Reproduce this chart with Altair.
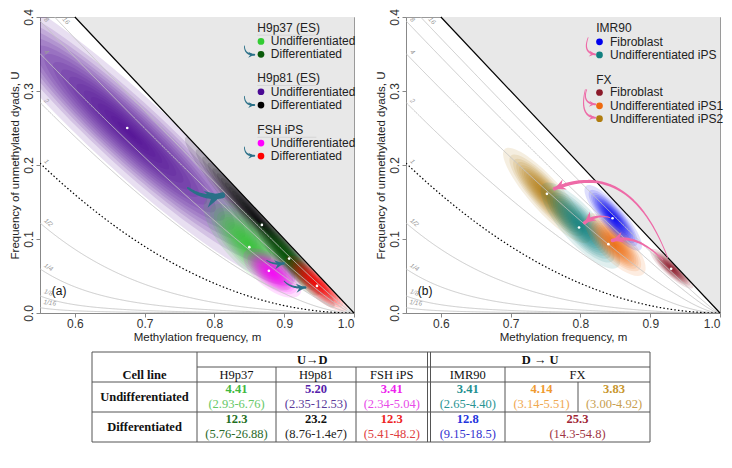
import math
import numpy as np
import pandas as pd
import altair as alt

# ====================== DATA ======================
ratio_values = [1/16, 1/8, 1/4, 1/2, 1, 2, 4, 8, 16]
ratio_labels = ["1/16", "1/8", "1/4", "1/2", "1", "2", "4", "8", "16"]

# ---- panel (a): posterior clouds (modes = white dots) ----
a_names = ["H9p81 U", "H9p81 D", "H9p37 U", "H9p37 D", "FSH U", "FSH D"]
a_mode_m = [0.675, 0.868, 0.850, 0.907, 0.878, 0.947]
a_mode_u = [0.250, 0.119, 0.089, 0.0735, 0.057, 0.0366]
a_end1_m = [0.470, 0.770, 0.795, 0.868, 0.848, 0.908]
a_end1_u = [0.424, 0.225, 0.147, 0.117, 0.080, 0.072]
a_end2_m = [0.888, 0.960, 0.902, 0.945, 0.918, 0.985]
a_end2_u = [0.062, 0.020, 0.040, 0.030, 0.028, 0.008]
a_width = [0.17, 0.12, 0.36, 0.26, 0.45, 0.30]
a_colors = ["#4a0a94", "#000000", "#33cc33", "#0a5a0a", "#ff00ff", "#ff0000"]

# ---- panel (b) ----
b_names = ["FX iPS2", "IMR90 iPS", "FX iPS1", "IMR90 Fib", "FX Fib"]
b_mode_m = [0.752, 0.798, 0.840, 0.846, 0.930]
b_mode_u = [0.161, 0.1155, 0.093, 0.128, 0.0597]
b_end1_m = [0.698, 0.752, 0.813, 0.812, 0.904]
b_end1_u = [0.215, 0.168, 0.128, 0.167, 0.083]
b_end2_m = [0.805, 0.848, 0.886, 0.882, 0.958]
b_end2_u = [0.103, 0.068, 0.057, 0.090, 0.037]
b_width = [0.26, 0.32, 0.38, 0.28, 0.27]
b_colors = ["#b07d10", "#128080", "#ee6a10", "#0000ee", "#8b1a2a"]

# ---- arrows: tail, bend, head ----
a_arrow_tail = [(0.762, 0.169), (0.875, 0.071), (0.900, 0.043)]
a_arrow_bend = [(0.785, 0.153), (0.885, 0.065), (0.910, 0.033)]
a_arrow_head = [(0.811, 0.159), (0.899, 0.067), (0.930, 0.0345)]
b_arrow_tail = [(0.842, 0.129), (0.918, 0.072), (0.925, 0.075)]
b_arrow_bend = [(0.822, 0.134), (0.880, 0.108), (0.870, 0.210)]
b_arrow_head = [(0.806, 0.122), (0.846, 0.098), (0.763, 0.168)]

# ---- legends ----
a_leg_titles = ["H9p37 (ES)", "H9p81 (ES)", "FSH iPS"]
a_leg_labels = ["Undifferentiated", "Differentiated"] * 3
a_leg_colors = ["#33cc33", "#0a5a0a", "#4a0a94", "#000000", "#ff00ff", "#ff0000"]
b_leg_titles = ["IMR90", "FX"]
b_leg_labels = ["Fibroblast", "Undifferentiated iPS", "Fibroblast",
                "Undifferentiated iPS1", "Undifferentiated iPS2"]
b_leg_colors = ["#0000ee", "#128080", "#8b1a2a", "#ee6a10", "#b07d10"]

# ---- table ----
tbl_groups = ["U\u2192D", "D \u2192 U"]
tbl_lines = ["H9p37", "H9p81", "FSH iPS", "IMR90", "FX"]
tbl_rows = ["Cell line", "Undifferentiated", "Differentiated"]
undiff_val = ["4.41", "5.20", "3.41", "3.41", "4.14", "3.83"]
undiff_ci = ["(2.93-6.76)", "(2.35-12.53)", "(2.34-5.04)", "(2.65-4.40)", "(3.14-5.51)", "(3.00-4.92)"]
undiff_col = ["#3fb83f", "#5522aa", "#ee22ee", "#1f9090", "#f09a30", "#c8962d"]
undiff_ci_col = ["#66c866", "#5a3a9a", "#e84ae8", "#2a9494", "#f0a850", "#c8a050"]
diff_val = ["12.3", "23.2", "12.3", "12.8", "25.3"]
diff_ci = ["(5.76-26.88)", "(8.76-1.4e7)", "(5.41-48.2)", "(9.15-18.5)", "(14.3-54.8)"]
diff_col = ["#1f6f1f", "#111111", "#ee2222", "#2233dd", "#a02535"]
diff_ci_col = ["#2a6a2a", "#222222", "#e04040", "#3333d0", "#a03545"]

# ====================== LAYOUT / STYLE ======================
PW, PH = 314, 296
M0, M1, U0, U1 = 0.55, 1.0, 0.0, 0.4
KX = PW / (M1 - M0)
KY = PH / (U1 - U0)
FONT = "Liberation Sans"
SERIF = "Liberation Serif"
N_LAYERS = 18
LAYER_SCALES = [1.0 - (j / N_LAYERS) ** (2 / 3) for j in range(N_LAYERS)]
LAYER_OPACITY = 0.13
SPREAD = 1.12
ARROWHEAD = "M 0 0 L -2 -1 L -1.3 0 L -2 1 Z"

xenc = alt.X("m:Q", scale=alt.Scale(domain=[M0, M1], nice=False, zero=False),
             axis=alt.Axis(values=[0.6, 0.7, 0.8, 0.9, 1.0], format=".1f", grid=False,
                           title="Methylation frequency, m"))
yenc = alt.Y("u:Q", scale=alt.Scale(domain=[U0, U1], nice=False, zero=False),
             axis=alt.Axis(values=[0, 0.1, 0.2, 0.3, 0.4], format=".1f", grid=False,
                           labelAngle=270, labelAlign="center", labelBaseline="bottom",
                           title="Frequency of unmethylated dyads, U"))


def ratio_curve(r):
    k = r * r
    ms = np.linspace(M0, M1, 400)
    a = 1 - ms
    A = 1 - k
    B = 1 - 2 * a + 2 * k * a
    C = -k * a * a
    if abs(A) < 1e-12:
        U = a * a
    else:
        disc = np.sqrt(np.maximum(B * B - 4 * A * C, 0))
        U = (-B + disc) / (2 * A)
    return ms, U


curve_rows, label_rows = [], []
for r, lab in zip(ratio_values, ratio_labels):
    ms, U = ratio_curve(r)
    for i, (mm, uu) in enumerate(zip(ms, U)):
        if uu <= 0.46:
            curve_rows.append(dict(m=mm, u=uu, r=lab, o=i))
    idx = int(np.argmax((U <= 0.392) & (ms >= 0.553)))
    mm, uu = ms[idx], U[idx]
    slope = (U[idx + 3] - U[idx]) / (ms[idx + 3] - ms[idx])
    ang = math.degrees(math.atan(-slope * KY / KX)) % 360
    label_rows.append(dict(m=mm + 0.001, u=uu + 0.004, t=lab, angle=ang))
curves = pd.DataFrame(curve_rows)
clabels = pd.DataFrame(label_rows)


def blob_df(e1m, e1u, e2m, e2u, widths, colors):
    rows = []
    for i in range(len(colors)):
        cm, cu = (e1m[i] + e2m[i]) / 2, (e1u[i] + e2u[i]) / 2
        dx = (e2m[i] - e1m[i]) * KX
        dy = (e1u[i] - e2u[i]) * KY
        L = math.hypot(dx, dy) * SPREAD
        ang = math.degrees(math.atan2(dy, dx)) % 360
        w = widths[i]
        shape = f"M -1 0 A 1 {w} 0 0 1 1 0 A 1 {w} 0 0 1 -1 0 Z"
        for s in LAYER_SCALES:
            rows.append(dict(m=cm, u=cu, size=(L * s) ** 2, angle=ang, shape=shape, color=colors[i]))
    return pd.DataFrame(rows)


def arrow_dfs(tails, bends, heads, w0, w1, head_len, prefix):
    trail, hd = [], []
    ts = np.linspace(0, 1, 30)
    for k, (p0, p1, p2) in enumerate(zip(tails, bends, heads)):
        for j, t in enumerate(ts):
            mm = (1 - t) ** 2 * p0[0] + 2 * (1 - t) * t * p1[0] + t ** 2 * p2[0]
            uu = (1 - t) ** 2 * p0[1] + 2 * (1 - t) * t * p1[1] + t ** 2 * p2[1]
            trail.append(dict(m=mm, u=uu, w=w0 + (w1 - w0) * t, o=j, id=f"{prefix}{k}"))
        dx = (p2[0] - p1[0]) * KX
        dy = -(p2[1] - p1[1]) * KY
        ang = math.degrees(math.atan2(dy, dx)) % 360
        hd.append(dict(m=p2[0], u=p2[1], angle=ang, size=head_len ** 2))
    return pd.DataFrame(trail), pd.DataFrame(hd)


def arrow_layers(tails, bends, heads, w0, w1, head_len, color, prefix):
    tdf, hdf = arrow_dfs(tails, bends, heads, w0, w1, head_len, prefix)
    shaft = alt.Chart(tdf).mark_trail(color=color).encode(
        x=xenc, y=yenc, size=alt.Size("w:Q", scale=None, legend=None),
        order="o:Q", detail="id:N")
    head = alt.Chart(hdf).mark_point(filled=True, color=color, opacity=1, strokeWidth=0,
                                     shape=ARROWHEAD).encode(
        x=xenc, y=yenc, angle=alt.Angle("angle:Q", scale=None),
        size=alt.Size("size:Q", scale=None, legend=None))
    return [shaft, head]


def panel(e1m, e1u, e2m, e2u, widths, colors, mode_m, mode_u,
          arrows, legend_layers, tag):
    blobs = alt.Chart(blob_df(e1m, e1u, e2m, e2u, widths, colors)).mark_point(
        filled=True, opacity=LAYER_OPACITY, strokeWidth=0, clip=True).encode(
        x=xenc, y=yenc,
        shape=alt.Shape("shape:N", scale=None, legend=None),
        angle=alt.Angle("angle:Q", scale=None),
        size=alt.Size("size:Q", scale=None, legend=None),
        color=alt.Color("color:N", scale=None, legend=None))
    grey_lines = alt.Chart(curves[curves.r != "1"]).mark_line(
        color="#c4c4c4", strokeWidth=0.9, clip=True).encode(
        x=xenc, y=yenc, detail="r:N", order="o:Q")
    dotted = alt.Chart(curves[curves.r == "1"]).mark_line(
        color="#000000", strokeWidth=1.2, strokeDash=[1.5, 2.2], clip=True).encode(
        x=xenc, y=yenc, order="o:Q")
    lab = alt.Chart(clabels).mark_text(
        font=FONT, fontSize=6.5, fontStyle="italic", color="#9a9a9a",
        align="left", baseline="bottom").encode(
        x=xenc, y=yenc, text="t:N", angle=alt.Angle("angle:Q", scale=None))
    edge = pd.DataFrame({"m": [0.6, 1.0], "u": [0.4, 0.0], "u2": [0.4, 0.4]})
    grey = alt.Chart(edge).mark_area(color="#e8e8e8", opacity=1).encode(
        x=xenc, y=yenc, y2="u2:Q")
    bline = alt.Chart(edge).mark_line(color="#000000", strokeWidth=1.2).encode(x=xenc, y=yenc)
    dots = alt.Chart(pd.DataFrame({"m": mode_m, "u": mode_u})).mark_point(
        filled=True, color="#ffffff", size=7, opacity=1, strokeWidth=0).encode(x=xenc, y=yenc)
    tagc = alt.Chart(pd.DataFrame({"m": [0.567], "u": [0.030], "t": [tag]})).mark_text(
        font=FONT, fontSize=12, color="#111", align="left", baseline="middle").encode(
        x=xenc, y=yenc, text="t:N")
    layers = [blobs, grey_lines, dotted, lab, grey, bline, dots] + arrows + legend_layers + [tagc]
    return alt.layer(*layers).properties(width=PW, height=PH,
                                         view=alt.ViewBackground(stroke="#9a9a9a", strokeWidth=1))


def legend_layers(title_m, title_u, titles, dot_m, text_m, entry_u, labels, colors, underline):
    L = []
    L.append(alt.Chart(pd.DataFrame({"m": [title_m] * len(titles), "u": title_u, "t": titles}))
             .mark_text(font=FONT, fontSize=12, color="#222", align="left", baseline="middle")
             .encode(x=xenc, y=yenc, text="t:N"))
    if underline:
        L.append(alt.Chart(pd.DataFrame({"m": [title_m] * len(titles), "m2": [0.946] * len(titles),
                                         "u": [v - 0.0095 for v in title_u]}))
                 .mark_rule(color="#d0d0d0", strokeWidth=0.8)
                 .encode(x=xenc, x2="m2:Q", y=yenc))
    L.append(alt.Chart(pd.DataFrame({"m": [dot_m] * len(labels), "u": entry_u, "c": colors}))
             .mark_point(filled=True, size=45, opacity=1, strokeWidth=0)
             .encode(x=xenc, y=yenc, color=alt.Color("c:N", scale=None, legend=None)))
    L.append(alt.Chart(pd.DataFrame({"m": [text_m] * len(labels), "u": entry_u, "t": labels}))
             .mark_text(font=FONT, fontSize=12, color="#222", align="left", baseline="middle")
             .encode(x=xenc, y=yenc, text="t:N"))
    return L


# ---- panel (a) ----
a_leg = legend_layers(0.8615, [0.385, 0.317, 0.247], a_leg_titles, 0.8667, 0.8808,
                      [0.367, 0.3495, 0.299, 0.281, 0.2297, 0.212],
                      a_leg_labels, a_leg_colors, True)
a_leg += arrow_layers([(0.843, 0.361), (0.843, 0.293), (0.843, 0.2245)],
                      [(0.843, 0.349), (0.843, 0.281), (0.843, 0.2125)],
                      [(0.857, 0.349), (0.857, 0.281), (0.857, 0.2125)],
                      0.8, 2.0, 6, "#2a7088", "la")
a_arr = (arrow_layers(a_arrow_tail[:1], a_arrow_bend[:1], a_arrow_head[:1], 2.0, 6.0, 17, "#2a7088", "aa")
         + arrow_layers(a_arrow_tail[1:], a_arrow_bend[1:], a_arrow_head[1:], 1.0, 2.6, 9, "#2a7088", "ab"))
left = panel(a_end1_m, a_end1_u, a_end2_m, a_end2_u, a_width, a_colors,
             a_mode_m, a_mode_u, a_arr, a_leg, "(a)")

# ---- panel (b) ----
b_leg = legend_layers(0.8226, [0.3845, 0.3147], b_leg_titles, 0.8273, 0.8424,
                      [0.3664, 0.3487, 0.298, 0.280, 0.2626],
                      b_leg_labels, b_leg_colors, False)
b_leg += arrow_layers([(0.811, 0.372), (0.809, 0.302), (0.807, 0.302)],
                      [(0.803, 0.352), (0.802, 0.284), (0.798, 0.266)],
                      [(0.821, 0.3495), (0.821, 0.282), (0.821, 0.264)],
                      0.8, 2.0, 6, "#ee6aa7", "lb")
b_arr = arrow_layers(b_arrow_tail, b_arrow_bend, b_arrow_head, 0.8, 3.6, 11, "#ee6aa7", "bb")
right = panel(b_end1_m, b_end1_u, b_end2_m, b_end2_u, b_width, b_colors,
              b_mode_m, b_mode_u, b_arr, b_leg, "(b)")

# ---- table (cell grid in table units; negative units = free space left of it) ----
TW, TH = 558, 90
TLEFT = 52
COLX = [0, 105, 184, 264, 335.5, 338.5, 413, 486, 558]
ROWY = [0, 15, 30, 60, 90]
tx = alt.X("x:Q", scale=alt.Scale(domain=[-TLEFT, TW], nice=False, zero=False), axis=None)
ty = alt.Y("y:Q", scale=alt.Scale(domain=[TH, 0], nice=False, zero=False), axis=None)
rules = []
for y in ROWY:
    rules.append(dict(x=COLX[1] if y == 15 else 0, x2=TW, y=y, y2=y))
for xv, y0 in [(0, 0), (COLX[1], 0), (COLX[2], 15), (COLX[3], 15), (COLX[4], 0),
               (COLX[5], 0), (COLX[6], 15), (TW, 0)]:
    rules.append(dict(x=xv, x2=xv, y=y0, y2=TH))
rules.append(dict(x=COLX[7], x2=COLX[7], y=30, y2=60))
rule_layer = alt.Chart(pd.DataFrame(rules)).mark_rule(color="#555", strokeWidth=1).encode(
    x=tx, x2="x2:Q", y=ty, y2="y2:Q")

centers6 = [(COLX[1] + COLX[2]) / 2, (COLX[2] + COLX[3]) / 2, (COLX[3] + COLX[4]) / 2,
            (COLX[5] + COLX[6]) / 2, (COLX[6] + COLX[7]) / 2, (COLX[7] + COLX[8]) / 2]
centers5 = centers6[:4] + [(COLX[6] + COLX[8]) / 2]
bold_rows, norm_rows = [], []
bold_rows += [dict(x=(COLX[1] + COLX[4]) / 2, y=7.5, t=tbl_groups[0], c="#111"),
              dict(x=(COLX[5] + COLX[8]) / 2, y=7.5, t=tbl_groups[1], c="#111"),
              dict(x=COLX[1] / 2, y=22.5, t=tbl_rows[0], c="#111"),
              dict(x=COLX[1] / 2, y=45, t=tbl_rows[1], c="#111"),
              dict(x=COLX[1] / 2, y=75, t=tbl_rows[2], c="#111")]
for xv, t in zip(centers5, tbl_lines):
    norm_rows.append(dict(x=xv, y=22.5, t=t, c="#111"))
for xv, v, ci, c1, c2 in zip(centers6, undiff_val, undiff_ci, undiff_col, undiff_ci_col):
    bold_rows.append(dict(x=xv, y=37, t=v, c=c1))
    norm_rows.append(dict(x=xv, y=52, t=ci, c=c2))
for xv, v, ci, c1, c2 in zip(centers5, diff_val, diff_ci, diff_col, diff_ci_col):
    bold_rows.append(dict(x=xv, y=67, t=v, c=c1))
    norm_rows.append(dict(x=xv, y=82, t=ci, c=c2))
bold_layer = alt.Chart(pd.DataFrame(bold_rows)).mark_text(
    font=SERIF, fontSize=12.5, fontWeight="bold", baseline="middle").encode(
    x=tx, y=ty, text="t:N", color=alt.Color("c:N", scale=None, legend=None))
norm_layer = alt.Chart(pd.DataFrame(norm_rows)).mark_text(
    font=SERIF, fontSize=12.5, baseline="middle").encode(
    x=tx, y=ty, text="t:N", color=alt.Color("c:N", scale=None, legend=None))
table = alt.layer(rule_layer, bold_layer, norm_layer).properties(
    width=TW + TLEFT, height=TH, view=alt.ViewBackground(stroke=None))

top = alt.hconcat(left, right, spacing=17)
chart = alt.vconcat(top, table, spacing=8).properties(
    padding={"left": 0, "top": 0, "right": 0, "bottom": 0}
).configure_axis(
    labelFont=FONT, titleFont=FONT, labelFontSize=12, titleFontSize=11.5,
    titleFontWeight="normal", labelColor="#333", titleColor="#222",
    domainColor="#888", tickColor="#888", tickSize=4, labelPadding=1, titlePadding=2
).configure_view(stroke="#9a9a9a")

chart.save("out.html", embed_options={"renderer": "svg", "actions": False})
